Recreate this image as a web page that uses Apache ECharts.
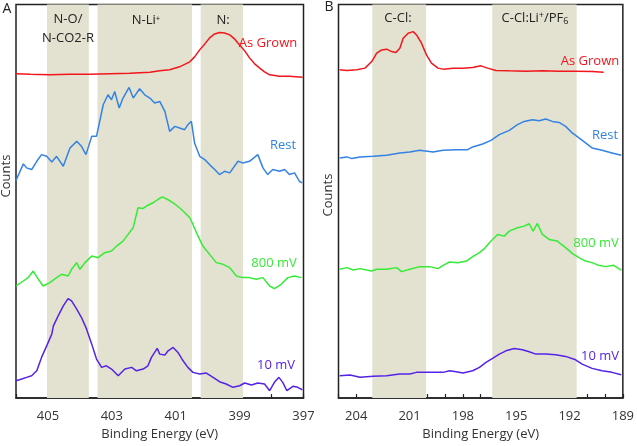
<!DOCTYPE html>
<html><head><meta charset="utf-8">
<script src="https://cdn.jsdelivr.net/npm/echarts@6/dist/echarts.min.js"></script>
<style>html,body{margin:0;padding:0;background:#fff}#c{width:637px;height:446px}</style>
</head><body><div id="c"></div>
<script>
// ---------- Panel A (N 1s) ----------
const A_ticks = [405, 403, 401, 399, 397];
const A_bands = [[405.03, 403.72], [403.45, 400.49], [400.22, 398.89]];
const A_bandLabels = ["N-O/\nN-CO2-R", "N-Li⁺", "N:"];

const A_grown_E = [406.00,405.56,404.94,404.31,403.69,403.06,402.44,401.81,401.50,401.19,400.88,400.56,400.41,400.25,400.09,399.94,399.78,399.63,399.47,399.31,399.16,399.00,398.84,398.69,398.53,398.38,398.22,398.06,397.75,397.44,397.03];
const A_grown_I = [325,324.5,324,324.5,324.5,325,325.5,326.5,328,329,332,337,342,349,355,361,365,366.5,366,364,360,354,348,341,335,331,327,324,322.5,322.5,321.5];

const A_rest_E = [406.00,405.77,405.67,405.51,405.35,405.20,405.04,404.88,404.73,404.52,404.31,404.10,403.95,403.81,403.63,403.48,403.38,403.27,403.12,403.01,402.91,402.77,402.65,402.46,402.33,402.13,401.97,401.81,401.66,401.50,401.34,401.19,401.03,400.88,400.72,400.62,400.51,400.41,400.25,400.09,399.94,399.78,399.63,399.47,399.31,399.05,398.90,398.69,398.43,398.27,398.12,397.96,397.75,397.59,397.44,397.28,397.13,397.04];
const A_rest_I = [218,234.7,230.7,229,237.3,244,242.3,236.7,242.3,232.3,250.7,257.3,252.3,244,262.3,262.3,277.3,294,304,299,307.3,290.7,300.7,311.3,300.7,310,304,300.7,295.7,297.3,287.3,267.3,272.3,270.7,269,274,277.3,255.7,242.3,239,234,229,224,227.3,225.7,237.3,235.7,237.3,244,230.7,224,229,227.3,229,224,225.7,217.3,215.7];

const A_800_E = [406.00,405.77,405.62,405.46,405.30,405.15,404.94,404.73,404.57,404.37,404.26,404.10,404.00,403.84,403.63,403.43,403.22,403.01,402.85,402.65,402.49,402.33,402.18,402.02,401.88,401.71,401.56,401.42,401.25,401.08,400.97,400.82,400.69,400.56,400.46,400.35,400.30,400.15,399.94,399.73,399.52,399.31,399.10,398.90,398.69,398.48,398.27,398.06,397.91,397.70,397.49,397.28,397.07];
const A_800_I = [112.3,117.3,120.7,127.3,119,112.3,115.7,120.7,124,122.3,129,135.7,129,135.7,142.3,140.7,145.7,147.3,152.3,157.3,164,171,190.7,190,193,195.7,199,201.7,199,195.7,193,189,185,180.7,174,165.7,162.3,152.3,144,135.7,134,130.7,122.3,120.7,120.7,119,120.7,112.3,109.7,114,120.7,122.3,120.7];

const A_10_E = [406.00,405.82,405.67,405.51,405.35,405.20,405.04,404.88,404.83,404.68,404.52,404.37,404.26,404.10,403.95,403.79,403.63,403.48,403.32,403.17,403.01,402.80,402.59,402.38,402.23,402.02,401.87,401.76,401.58,401.50,401.34,401.24,401.08,400.93,400.77,400.62,400.46,400.25,400.04,399.83,399.63,399.42,399.21,399.00,398.84,398.63,398.43,398.22,398.06,397.91,397.77,397.65,397.52,397.33,397.18,397.04];
const A_10_I = [17.3,19,20.7,22.3,27.3,40.7,52.3,64,72.3,82.3,92.3,99.7,97.3,89,80.7,69,54,39,30.7,32.3,29,22.3,29,30.7,27.3,29,32.3,40.7,49.7,44,43,47.3,50.7,45.7,37.3,30.7,25.7,24,25,20.7,16.3,14,10.7,12.3,15,13,15,14,7.3,15.7,20.7,15.7,7.3,11.7,10.7,8.3];

// ---------- Panel B (Cl 2p) ----------
const B_ticks = [204, 201, 198, 195, 192, 189];
const B_bands = [[203.1, 200.07], [196.35, 191.6]];

const B_grown_E = [204.94,204.53,203.97,203.51,203.13,202.85,202.57,202.29,202.01,201.77,201.55,201.36,201.08,200.80,200.61,200.33,200.05,199.77,199.40,199.12,198.56,198.00,197.45,196.98,196.61,196.14,195.39,194.46,193.53,192.59,191.66,190.73,190.08];
const B_grown_I = [329,328.3,329,330.7,337.3,345.7,349,349.7,347.3,346.3,350.7,360.7,365.7,367.3,364,355.7,344,335.7,330.7,329.7,330.7,330.7,331.3,333,330.7,328.3,328,327.7,328,327.7,327.7,327.3,326.7];

const B_rest_E = [204.94,204.53,204.25,203.79,203.04,202.29,201.55,200.99,200.43,199.68,199.12,198.37,197.73,197.45,196.89,196.42,195.95,195.39,194.93,194.55,194.09,193.71,193.34,192.97,192.59,192.22,191.85,191.47,191.10,190.73,190.17,189.61,189.09];
const B_rest_I = [240.7,241.7,240,241.7,242.3,243.3,245.7,246.7,248.3,246.7,248.3,249,249,251.7,254.7,258.3,264,268.3,274,277.3,279,278,279.7,277.3,276.3,272.3,265.7,260.7,255.7,250.7,248.3,245.7,243.3];

const B_800_E = [204.94,204.53,204.16,203.79,203.41,203.13,202.85,202.29,201.73,201.45,200.99,200.43,199.87,199.40,199.12,198.75,198.28,197.81,197.45,197.07,196.79,196.51,196.42,196.05,195.67,195.39,194.93,194.55,194.27,194.05,193.81,193.53,193.15,192.69,192.22,191.85,191.47,191.10,190.73,190.36,189.98,189.52,189.09];
const B_800_I = [129,130.7,128.3,129.7,128.3,127.3,129,129,130.7,126.7,129,131.7,131.7,129.7,133,136.3,135.7,137.3,141.7,145.7,149.7,155.7,157.3,164,162.3,167.3,170.7,172.3,174.7,167.3,175,164,159,157.3,150.7,145,140.7,137.3,135.7,133,131.7,133,128.3];

const B_10_E = [204.94,204.35,203.79,203.04,202.29,201.55,200.99,200.61,199.87,199.12,198.75,198.37,198.00,197.45,197.07,196.70,196.33,195.95,195.58,195.11,194.65,194.27,193.90,193.34,192.78,192.22,191.66,191.29,190.73,190.17,189.61,189.09];
const B_10_I = [22.3,23,20.7,21.7,22.3,24,24,25.7,25.7,25.7,27.3,26.3,25,27.3,30.7,35.7,39.7,44,47.3,49.7,48.3,46.3,44,44,43.3,41.7,38.3,34,29.7,27.3,25.7,23.3];
const B_bandLabels = ["C-Cl:", "C-Cl:Li{sup|+}/PF{sub|6}"];

const seriesNames = ["As Grown", "Rest", "800 mV", "10 mV"];
const colors = ["#f2161c", "#3483e4", "#36eb36", "#5523e6"];

// ---------- build ----------
const zip = (e, v) => e.map((x, i) => [x, v[i]]);
const chart = echarts.init(document.getElementById('c'));
const FONT = "Open Sans";
const bandColor = "#e3e1d0";

function lineSeries(idx, E, I, c, extra) {
  return Object.assign({
    type: 'line', xAxisIndex: idx, yAxisIndex: idx, data: zip(E, I),
    symbol: 'none', smooth: false, silent: true, animation: false,
    lineStyle: { color: c, width: 1.5 }, z: 3
  }, extra || {});
}

function xAxisDef(idx, min, max, labelTest) {
  return {
    type: 'value', gridIndex: idx, min: min, max: max, interval: 1, inverse: true,
    name: 'Binding Energy (eV)', nameLocation: 'middle', nameGap: 30,
    nameTextStyle: { fontFamily: FONT, fontSize: 13, color: '#333' },
    axisLine: { show: true, lineStyle: { color: '#222', width: 1.5 } },
    axisTick: { show: true, inside: true, length: 4, lineStyle: { color: '#222', width: 1.2 } },
    axisLabel: { fontFamily: FONT, fontSize: 13, color: '#333', margin: 12,
      formatter: v => labelTest(v) ? String(v) : '' },
    splitLine: { show: false }
  };
}
function yAxisDef(idx) {
  return { type: 'value', gridIndex: idx, min: 0, max: 394.5, show: false };
}

const bandA = A_bands.map(b => [{ xAxis: b[0] }, { xAxis: b[1] }]);
const bandB = B_bands.map(b => [{ xAxis: b[0] }, { xAxis: b[1] }]);

const series = [
  lineSeries(0, A_grown_E, A_grown_I, colors[0], {
    markArea: { silent: true, itemStyle: { color: bandColor }, data: bandA, z: 1 }
  }),
  lineSeries(0, A_rest_E, A_rest_I, colors[1]),
  lineSeries(0, A_800_E, A_800_I, colors[2]),
  lineSeries(0, A_10_E, A_10_I, colors[3]),
  lineSeries(1, B_grown_E, B_grown_I, colors[0], {
    markArea: { silent: true, itemStyle: { color: bandColor }, data: bandB, z: 1 }
  }),
  lineSeries(1, B_rest_E, B_rest_I, colors[1]),
  lineSeries(1, B_800_E, B_800_I, colors[2]),
  lineSeries(1, B_10_E, B_10_I, colors[3])
];

function txt(x, y, s, color, opts) {
  return Object.assign({
    type: 'text', x: x, y: y, z: 10, silent: true,
    style: Object.assign({ text: s, fill: color || '#222', font: '13px "' + FONT + '"',
      textAlign: 'center', textVerticalAlign: 'middle' }, (opts && opts.style) || {})
  }, (opts && opts.el) || {});
}

const labelPosA = [[268, 43], [283, 145], [274, 263], [276, 365]];
const labelPosB = [[590, 61], [605, 135], [596, 243], [600, 356]];

const graphic = [
  txt(7, 9, 'A', '#222', { style: { font: '14px "' + FONT + '"' } }),
  txt(329, 7, 'B', '#222', { style: { font: '14px "' + FONT + '"' } }),
  txt(6, 176, 'Counts', '#333', { el: { rotation: Math.PI / 2 } }),
  txt(328, 195, 'Counts', '#333', { el: { rotation: Math.PI / 2 } }),
  txt(68, 29, A_bandLabels[0], '#222', { style: { lineHeight: 19 } }),
  txt(146, 20, A_bandLabels[1], '#222'),
  txt(223, 20, A_bandLabels[2], '#222'),
  txt(398, 18, B_bandLabels[0], '#222'),
  { type: 'text', x: 535, y: 18, z: 10, silent: true,
    style: { text: B_bandLabels[1], fill: '#222', font: '13px "' + FONT + '"',
      textAlign: 'center', textVerticalAlign: 'middle',
      rich: { sup: { fontSize: 9, verticalAlign: 'top', fill: '#222', fontFamily: FONT, padding: [0,0,6,0] },
              sub: { fontSize: 9, verticalAlign: 'bottom', fill: '#222', fontFamily: FONT, padding: [6,0,0,0] } } } }
];
seriesNames.forEach((n, i) => {
  graphic.push(txt(labelPosA[i][0], labelPosA[i][1], n, colors[i]));
  graphic.push(txt(labelPosB[i][0], labelPosB[i][1], n, colors[i]));
});

chart.setOption({
  animation: false,
  backgroundColor: '#fff',
  grid: [
    { left: 16, top: 4.5, width: 287.5, height: 394.5, show: true, borderColor: '#222', borderWidth: 1.5, backgroundColor: 'transparent' },
    { left: 338.5, top: 4.5, width: 285, height: 394.5, show: true, borderColor: '#222', borderWidth: 1.5, backgroundColor: 'transparent' }
  ],
  xAxis: [
    xAxisDef(0, 397, 406, v => A_ticks.indexOf(v) >= 0),
    xAxisDef(1, 189, 205, v => B_ticks.indexOf(v) >= 0)
  ],
  yAxis: [yAxisDef(0), yAxisDef(1)],
  series: series,
  graphic: graphic
});
</script></body></html>
